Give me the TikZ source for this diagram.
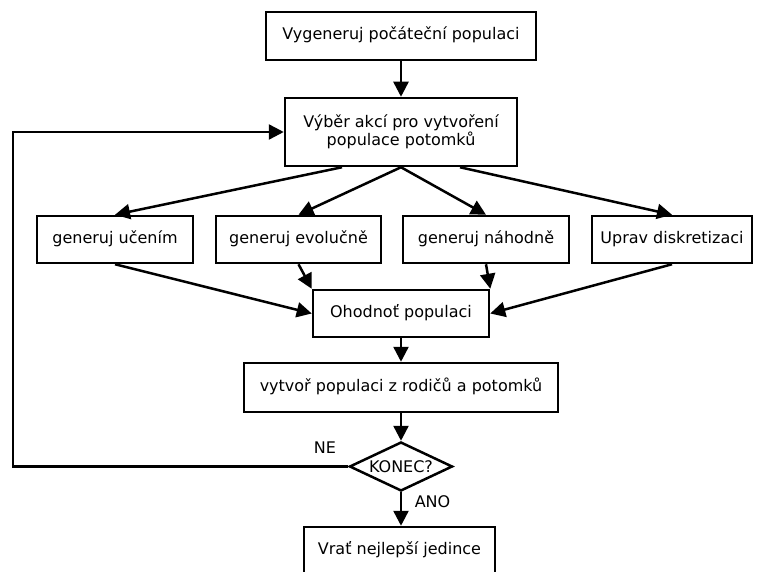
\documentclass[tikz,border=0pt]{standalone}
\usepackage{fontspec}
\setmainfont{DejaVu Sans}
\usetikzlibrary{arrows.meta,shapes.geometric}

\begin{document}
\begin{tikzpicture}[x=1pt,y=-1pt,
  every node/.style={font=\fontsize{16}{18.5}\selectfont},
  box/.style={draw, line width=2.5pt, inner sep=0pt, align=center},
  oneline/.style={text height=0.74em, text depth=0pt},
  decision/.style={draw, diamond, line width=2.5pt, inner sep=0pt,
    minimum width=103pt, minimum height=49pt},
  flow/.style={line width=2.5pt, -{Triangle[length=15pt,width=15pt]}},
  lbl/.style={inner sep=0pt, text height=0.73em, text depth=0pt}
]
\useasboundingbox (0,0) rectangle (758,572);

% process boxes
\node[box, oneline, minimum width=270pt, minimum height=48pt] (start) at (401,36) {Vygeneruj počáteční populaci};
\node[box, minimum width=232pt, minimum height=68pt] (select) at (401,132) {Výběr akcí pro vytvoření\\populace potomků};
\node[box, oneline, minimum width=156pt, minimum height=47pt] (learn) at (115,239.5) {generuj učením};
\node[box, oneline, minimum width=165pt, minimum height=47pt] (evol) at (298.5,239.5) {generuj evolučně};
\node[box, oneline, minimum width=166pt, minimum height=47pt] (rand) at (486,239.5) {generuj náhodně};
\node[box, oneline, minimum width=160pt, minimum height=47pt] (discr) at (672,239.5) {Uprav diskretizaci};
\node[box, oneline, minimum width=176pt, minimum height=47pt] (eval) at (401,313.5) {Ohodnoť populaci};
\node[box, oneline, minimum width=314pt, minimum height=49pt] (merge) at (401,387.5) {vytvoř populaci z rodičů a potomků};
\node[decision, label=center:KONEC?] (end) at (401,466.5) {};
\node[box, oneline, minimum width=191pt, minimum height=48pt] (best) at (399.5,551) {Vrať nejlepší jedince};

% branch labels
\node[lbl] (no) at (325,450) {NE};
\node[lbl] (yes) at (432.5,503.5) {ANO};

% connectors
\draw[flow] (start) -- (select);
\draw[flow] ([xshift=-59pt]select.south) -- (learn.north);
\draw[flow] (select.south) -- (evol.north);
\draw[flow] (select.south) -- (rand.north);
\draw[flow] ([xshift=59pt]select.south) -- (discr.north);
\draw[flow] (learn.south) -- (eval.west);
\draw[flow] (evol.south) -- (eval.north west);
\draw[flow] (rand.south) -- (eval.north east);
\draw[flow] (discr.south) -- (eval.east);
\draw[flow] (eval) -- (merge);
\draw[flow] (merge) -- (end);
\draw[flow] (end) -- (end |- best.north);

% loop back when not finished
\coordinate (loopbot) at (13,466.5);
\coordinate (looptop) at (13,132);
\draw[flow] (end.west) -- (loopbot) -- (looptop) -- (select.west);
\end{tikzpicture}
\end{document}
